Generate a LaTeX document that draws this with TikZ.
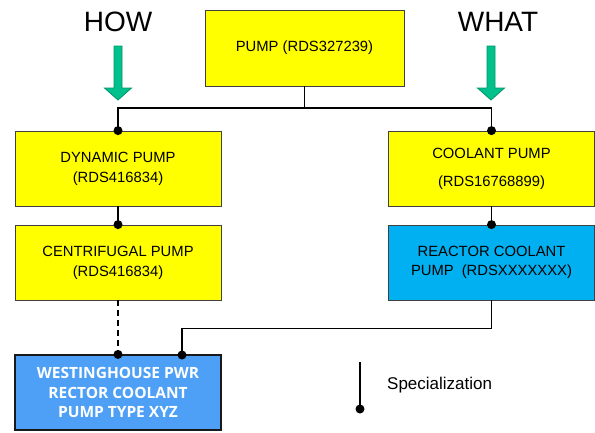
\documentclass[tikz,border=0pt]{standalone}
\usepackage{fontspec}
\setmainfont{Liberation Sans}
\newfontfamily\osans{Open Sans}
\begin{document}
\begin{tikzpicture}[x=1pt,y=-1pt,
  box/.style={draw=black!75,line width=0.8pt,minimum width=206pt,minimum height=75pt,inner sep=0pt,align=center,font=\fontsize{14.8}{20}\selectfont},
  yel/.style={box,fill={rgb,255:red,255;green,255;blue,0}},
  conn/.style={line width=1.3pt,black},
  dot/.style={circle,fill=black,inner sep=0pt,minimum size=9pt},
  bigarrow/.style={fill={rgb,255:red,0;green,192;blue,140},draw={rgb,255:red,0;green,150;blue,105},line width=0.8pt},
  head/.style={font=\fontsize{28}{30}\selectfont}]
\useasboundingbox (0,0) rectangle (595,432);
\node[yel,minimum width=199pt,minimum height=76pt] (pump) at (304.5,48) {PUMP (RDS327239)};
\node[yel] (dyn) at (118,168.5) {DYNAMIC PUMP\\(RDS416834)};
\node[yel] (cen) at (118,262.5) {CENTRIFUGAL PUMP\\(RDS416834)};
\node[yel,font=\fontsize{14.8}{28}\selectfont] (cool) at (491.5,168.5) {COOLANT PUMP\\(RDS16768899)};
\node[box,fill={rgb,255:red,0;green,176;blue,240},font=\fontsize{14.8}{18.5}\selectfont] (rcp) at (491.5,262.5) {REACTOR COOLANT\\PUMP\hspace{8pt}(RDSXXXXXXX)};
\node[box,draw=black!90,line width=1.2pt,fill={rgb,255:red,77;green,160;blue,245},text=white,font=\osans\fontsize{15.5}{19.5}\selectfont\bfseries] (wh) at (118,392.5) {WESTINGHOUSE PWR\\RECTOR COOLANT\\PUMP TYPE XYZ};
\node[head] (how) at (118,22) {HOW};
\node[head] (what) at (498,22) {WHAT};
\path[bigarrow] (114,46) -- (122,46) -- (122,88) -- (131.5,88) -- (118,100) -- (104.5,88) -- (114,88) -- cycle;
\path[bigarrow] (487,46) -- (495,46) -- (495,88) -- (504.5,88) -- (491,100) -- (477.5,88) -- (487,88) -- cycle;
\coordinate (j) at (304.5,108);
\draw[conn] (pump.south) -- (j);
\draw[conn] (j) -| (dyn.north);
\draw[conn] (j) -| (cool.north);
\draw[conn] (dyn.south) -- (cen.north);
\draw[conn] (cool.south) -- (rcp.north);
\draw[conn,dash pattern=on 6pt off 4pt] (cen.south) -- (wh.north);
\coordinate (w2) at (182,355);
\draw[conn] (rcp.south) -- ++(0,28) -| (w2);
\node[dot] at (dyn.north) {};
\node[dot] at (cool.north) {};
\node[dot] at (cen.north) {};
\node[dot] at (rcp.north) {};
\node[dot] at (wh.north) {};
\node[dot] at (w2) {};
\coordinate (lt) at (360,362);
\node[dot] (lb) at (360,409) {};
\draw[conn] (lt) -- (lb.center);
\node[anchor=west,font=\fontsize{17}{19}\selectfont,inner sep=0pt] (spec) at (387,385) {Specialization};
\end{tikzpicture}
\end{document}
